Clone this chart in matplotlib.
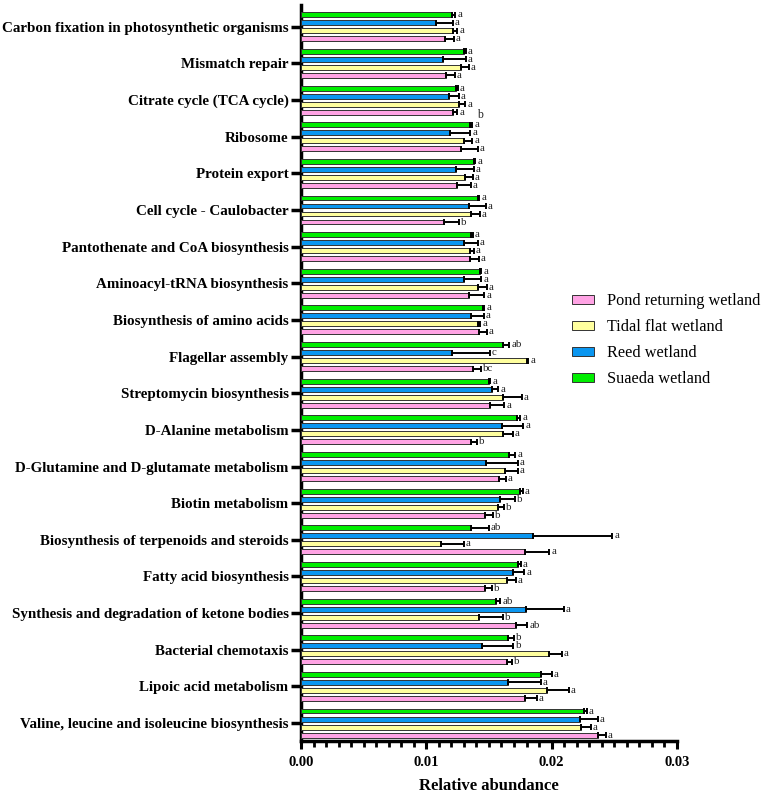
import matplotlib
matplotlib.use("Agg")
import matplotlib.pyplot as plt
import numpy as np
from matplotlib.patches import Patch
from matplotlib.ticker import MultipleLocator

plt.rcParams['font.family'] = ['Liberation Serif', 'DejaVu Serif']

# Categories listed top to bottom
categories = [
    "Carbon fixation in photosynthetic organisms",
    "Mismatch repair",
    "Citrate cycle (TCA cycle)",
    "Ribosome",
    "Protein export",
    "Cell cycle - Caulobacter",
    "Pantothenate and CoA biosynthesis",
    "Aminoacyl-tRNA biosynthesis",
    "Biosynthesis of amino acids",
    "Flagellar assembly",
    "Streptomycin biosynthesis",
    "D-Alanine metabolism",
    "D-Glutamine and D-glutamate metabolism",
    "Biotin metabolism",
    "Biosynthesis of terpenoids and steroids",
    "Fatty acid biosynthesis",
    "Synthesis and degradation of ketone bodies",
    "Bacterial chemotaxis",
    "Lipoic acid metabolism",
    "Valine, leucine and isoleucine biosynthesis",
]

series_names = ["Pond returning wetland", "Tidal flat wetland", "Reed wetland", "Suaeda wetland"]
series_colors = ["#FFA3E4", "#FFFF9E", "#0A96F0", "#00EE00"]

pond = [0.01147, 0.01157, 0.01211, 0.01280, 0.01245, 0.01139, 0.01347, 0.01344, 0.01424, 0.01373,
        0.01512, 0.01360, 0.01584, 0.01472, 0.01790, 0.01467, 0.01717, 0.01640, 0.01790, 0.02371]
pond_err = [0.0007, 0.0007, 0.00035, 0.0013, 0.0011, 0.0012, 0.0007, 0.0012, 0.0006, 0.0006,
            0.0011, 0.00045, 0.0005, 0.0006, 0.0019, 0.0006, 0.0009, 0.0004, 0.0009, 0.0006]
pond_sig = ["a", "a", "a", "a", "a", "b", "a", "a", "a", "bc",
            "a", "b", "a", "b", "a", "b", "ab", "b", "a", "a"]

tidal = [0.01211, 0.01280, 0.01259, 0.01299, 0.01312, 0.01357, 0.01347, 0.01411, 0.01411, 0.01805,
         0.01611, 0.01611, 0.01632, 0.01573, 0.01117, 0.01645, 0.01424, 0.01979, 0.01965, 0.02237]
tidal_err = [0.00035, 0.0006, 0.00053, 0.00067, 0.0006, 0.0007, 0.0003, 0.0007, 0.0002, 0.0001,
             0.0015, 0.0008, 0.0010, 0.0005, 0.0018, 0.0007, 0.0019, 0.0010, 0.0017, 0.00075]
tidal_sig = ["a", "a", "a", "a", "a", "a", "a", "a", "a", "a",
             "a", "a", "a", "b", "a", "a", "b", "a", "a", "a"]

reed = [0.01080, 0.01133, 0.01179, 0.01192, 0.01240, 0.01344, 0.01299, 0.01299, 0.01360, 0.01205,
        0.01525, 0.01605, 0.01480, 0.01590, 0.01853, 0.01693, 0.01797, 0.01445, 0.01653, 0.02227]
reed_err = [0.0013, 0.0018, 0.0008, 0.0016, 0.0014, 0.0013, 0.0011, 0.0014, 0.0010, 0.0030,
            0.0005, 0.0017, 0.0025, 0.0012, 0.0063, 0.0009, 0.0030, 0.0025, 0.0026, 0.0014]
reed_sig = ["a", "a", "a", "a", "a", "a", "a", "a", "a", "c",
            "a", "a", "a", "b", "a", "a", "a", "b", "a", "a"]

suaeda = [0.01205, 0.01304, 0.01240, 0.01347, 0.01379, 0.01413, 0.01360, 0.01427, 0.01451, 0.01611,
          0.01499, 0.01720, 0.01659, 0.01750, 0.01357, 0.01733, 0.01557, 0.01653, 0.01912, 0.02259]
suaeda_err = [0.00027, 0.00013, 0.0001, 0.0002, 0.0001, 0.0001, 0.0001, 0.00013, 0.0001, 0.0005,
              0.0001, 0.0003, 0.0005, 0.0002, 0.0014, 0.0002, 0.00035, 0.00045, 0.0009, 0.0002]
suaeda_sig = ["a", "a", "a", "a", "a", "a", "a", "a", "a", "ab",
              "a", "a", "a", "a", "ab", "a", "ab", "b", "a", "a"]

# stray extra letter seen above Suaeda bar of Ribosome
extra_label_cat = "Ribosome"
extra_label_text = "b"

x_ticks = [0.00, 0.01, 0.02, 0.03]

values = [pond, tidal, reed, suaeda]
errors = [pond_err, tidal_err, reed_err, suaeda_err]
sigs = [pond_sig, tidal_sig, reed_sig, suaeda_sig]

fig = plt.figure(figsize=(7.64, 7.99), dpi=100)
ax = fig.add_axes([0.394, 0.0726, 0.492, 0.9214])

n = len(categories)
ypos = np.arange(n)[::-1]  # top category at highest y
step = 0.2186
height = 0.135
offsets = [-1.5 * step, -0.5 * step, 0.5 * step, 1.5 * step]

for k in range(4):
    y = ypos + offsets[k]
    v = np.array(values[k])
    e = np.array(errors[k])
    ax.barh(y, v, height=height, color=series_colors[k], edgecolor="#333333",
            linewidth=0.7, zorder=3)
    ax.errorbar(v, y, xerr=[np.zeros_like(e), e], fmt="none", ecolor="black",
                elinewidth=1.4, capsize=2.2, capthick=1.4, zorder=4)
    for yi, vi, ei, s in zip(y, v, e, sigs[k]):
        ax.annotate(s, (vi + ei, yi), xytext=(1.5, 0), textcoords="offset points",
                    ha="left", va="center", fontsize=7.8, color="#222222")

# extra letter
ci = categories.index(extra_label_cat)
ax.annotate(extra_label_text, (suaeda[ci] + suaeda_err[ci], ypos[ci] + offsets[3]),
            xytext=(3.5, 7), textcoords="offset points", ha="left", va="center",
            fontsize=8.5, color="#222222")

ax.set_xlim(0, 0.03)
ax.set_ylim(-0.49, n - 1 + 0.6)
ax.set_xticks(x_ticks)
ax.set_xticklabels([f"{t:.2f}" for t in x_ticks], fontsize=10.5, fontweight="bold")
ax.xaxis.set_minor_locator(MultipleLocator(0.001))
ax.set_yticks(ypos)
ax.set_yticklabels(categories, fontsize=10.8, fontweight="bold")
ax.set_xlabel("Relative abundance", fontsize=12, fontweight="bold", labelpad=6)

for sp in ["top", "right"]:
    ax.spines[sp].set_visible(False)
for sp in ["left", "bottom"]:
    ax.spines[sp].set_linewidth(2.5)

ax.tick_params(axis="y", which="major", length=7, width=2.5, pad=2)
ax.tick_params(axis="x", which="major", length=6, width=2.2, pad=5)
ax.tick_params(axis="x", which="minor", length=4, width=2.0)

handles = [Patch(facecolor=c, edgecolor="#333333", linewidth=0.7) for c in series_colors]
fig.legend(handles, series_names, loc="upper left", bbox_to_anchor=(0.749, 0.633),
           frameon=False, fontsize=11.7, handlelength=1.35, handleheight=0.5,
           handletextpad=0.8, labelspacing=0.62, borderaxespad=0, borderpad=0)

fig.savefig("out.png", dpi=100)
